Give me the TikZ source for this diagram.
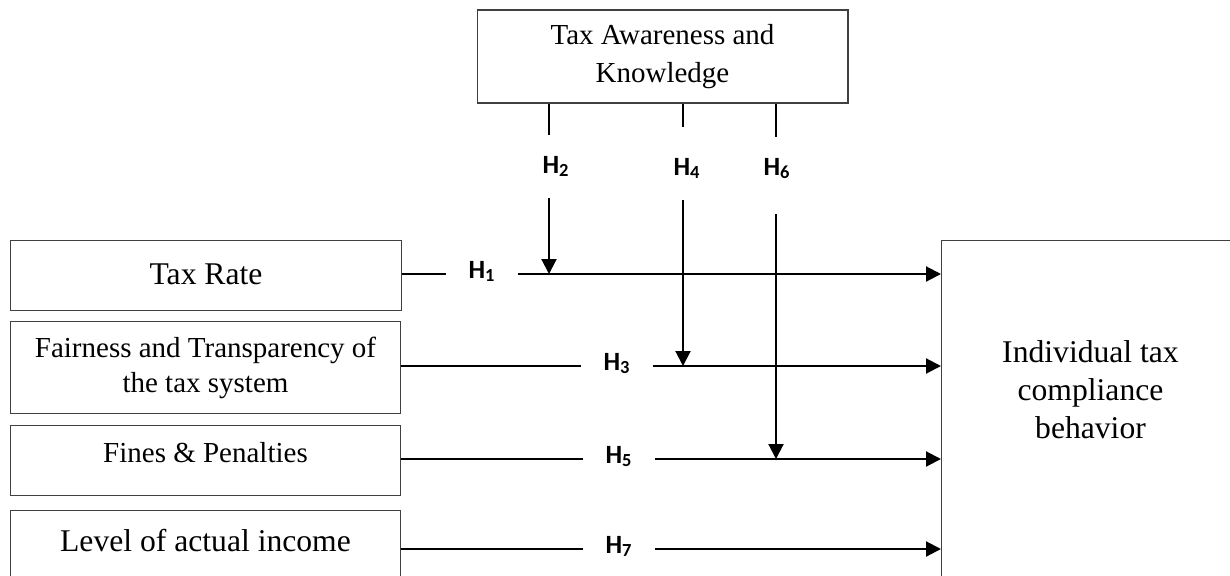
\documentclass[tikz,border=0pt]{standalone}
\usepackage{fontspec}
\setmainfont{Liberation Serif}
\newfontfamily\hypfont{Carlito}
\usetikzlibrary{positioning,arrows.meta}

\tikzset{
  box/.style={draw=black!75,line width=0.6pt,rectangle,inner sep=0pt,align=center},
  midtext/.style={font=\fontsize{16.5}{21.6}\selectfont},
  bigtext/.style={font=\fontsize{18}{21.6}\selectfont},
  link/.style={line width=1.2pt},
  arr/.style={link,-{Triangle[length=0.3cm,width=0.3cm]}},
  hyp/.style={font=\hypfont\bfseries\fontsize{15}{18}\selectfont,anchor=mid,inner xsep=0.44cm,inner ysep=0pt},
  hypv/.style={hyp,anchor=base,inner xsep=0pt,inner ysep=0.42cm},
}

\begin{document}
\begin{tikzpicture}[x=0.02cm,y=-0.02cm]
    \clip (0,0) rectangle (1230,575);
    % boxes
    \node[box,midtext,minimum width=7.42cm,minimum height=1.86cm] (aware) at (662.5,56.5) {Tax Awareness and\\Knowledge} ;
    \node[box,bigtext,anchor=north west,minimum width=7.82cm,minimum height=1.4cm,text height=0.87cm,text depth=0.53cm] (rate) at (10,240) {Tax Rate} ;
    \node[box,font=\fontsize{16.5}{19.9}\selectfont,below=0.2cm of rate.south west,anchor=north west,minimum width=7.8cm,minimum height=1.84cm] (fair) {Fairness and Transparency of\\the tax system} ;
    \node[box,midtext,below=0.22cm of fair.south west,anchor=north west,minimum width=7.8cm,minimum height=1.4cm,text height=0.74cm,text depth=0.66cm] (fines) {Fines \& Penalties} ;
    \node[box,bigtext,below=0.28cm of fines.south west,anchor=north west,minimum width=7.8cm,minimum height=1.8cm,text height=0.82cm,text depth=0.98cm] (level) {Level of actual income} ;
    \node[box,anchor=north west,minimum width=5.96cm,minimum height=7.2cm,
      label={[bigtext,align=center,inner sep=0pt,yshift=0.62cm]center:Individual tax\\compliance\\behavior}] (comp) at (941,240) {} ;
    % hypotheses
    \node[hyp] (h1) at (482,274) {H\textsubscript{1}} ;
    \node[hyp] (h3) at (617,366) {H\textsubscript{3}} ;
    \node[hyp] (h5) at (619,459) {H\textsubscript{5}} ;
    \node[hyp] (h7) at (619,549) {H\textsubscript{7}} ;
    \node[hypv] (h2) at (556,173) {H\textsubscript{2}} ;
    \node[hypv] (h4) at (687,175) {H\textsubscript{4}} ;
    \node[hypv] (h6) at (777,175) {H\textsubscript{6}} ;
    \coordinate (m2) at (549,274) ;
    \coordinate (m4) at (683,366) ;
    \coordinate (m6) at (776,459) ;
    % direct paths
    \draw[link] (rate.east |- h1.mid) -- (h1.mid west) ;
    \draw[arr] (h1.mid east) -- (h1.mid east -| comp.west) ;
    \draw[link] (fair.east |- h3.mid) -- (h3.mid west) ;
    \draw[arr] (h3.mid east) -- (h3.mid east -| comp.west) ;
    \draw[link] (fines.east |- h5.mid) -- (h5.mid west) ;
    \draw[arr] (h5.mid east) -- (h5.mid east -| comp.west) ;
    \draw[link] (level.east |- h7.mid) -- (h7.mid west) ;
    \draw[arr] (h7.mid east) -- (h7.mid east -| comp.west) ;
    % moderating paths
    \draw[link] (aware.south -| m2) -- (h2.north -| m2) ;
    \draw[arr] (h2.south -| m2) -- (m2) ;
    \draw[link,shorten >=0.2cm] (aware.south -| m4) -- (h4.north -| m4) ;
    \draw[arr] (h4.south -| m4) -- (m4) ;
    \draw[link] (aware.south -| m6) -- (h6.north -| m6) ;
    \draw[arr,shorten <=0.28cm] (h6.south -| m6) -- (m6) ;
\end{tikzpicture}
\end{document}
